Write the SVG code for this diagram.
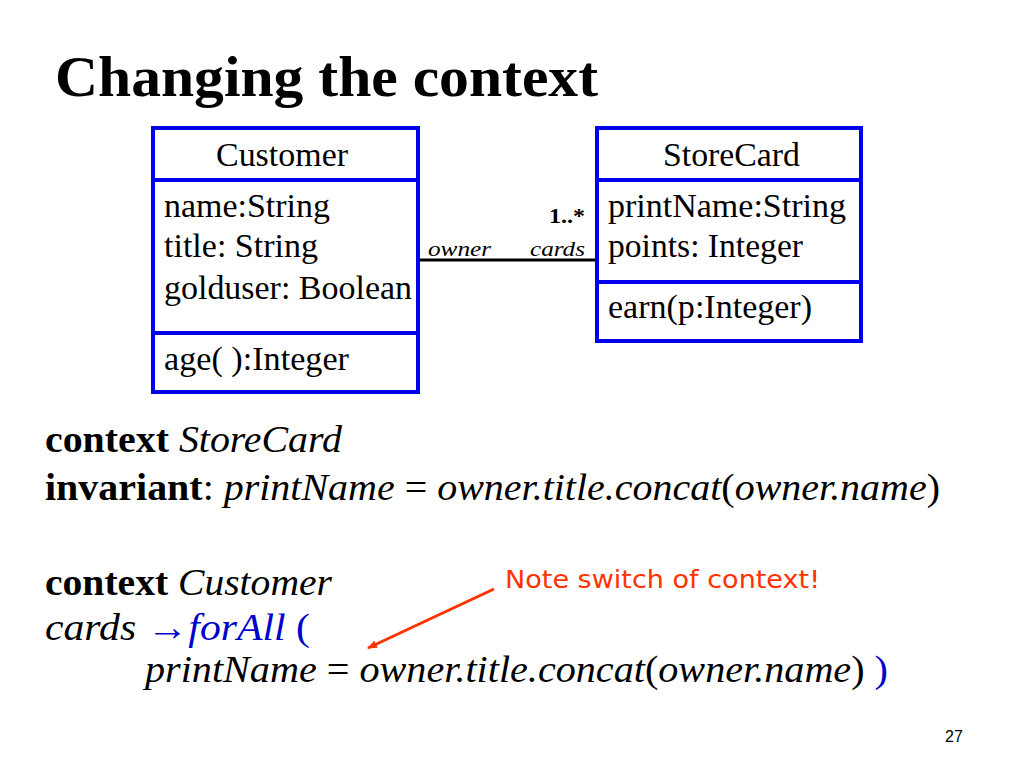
<svg xmlns="http://www.w3.org/2000/svg" width="1024" height="768" viewBox="0 0 1024 768">
<style>
.s{font-family:"Liberation Serif","Times New Roman",serif;fill:#000}
.box{fill:#fff;stroke:#0000ee;stroke-width:4}
.div{stroke:#0000ee;stroke-width:4}
.cls{font-size:33px}
.code{font-size:38px}
.i{font-style:italic}
.b{font-weight:bold}
.blue{fill:#0000cc}
</style>
<defs>
<marker id="ah" markerWidth="10" markerHeight="8" refX="9" refY="4" orient="auto" markerUnits="userSpaceOnUse">
<path d="M0,0 L10,4 L0,8 Z" fill="#ff3300"/>
</marker>
</defs>
<rect width="1024" height="768" fill="#fff"/>
<text class="s b" x="55" y="96" font-size="57" textLength="543" lengthAdjust="spacingAndGlyphs">Changing the context</text>

<g id="connectors">
<line x1="420" y1="260" x2="597" y2="260" stroke="#000" stroke-width="3"/>
<text class="s i" x="428" y="256" font-size="22" textLength="63" lengthAdjust="spacingAndGlyphs">owner</text>
<text class="s i" x="530" y="256" font-size="22" textLength="55" lengthAdjust="spacingAndGlyphs">cards</text>
<text class="s b" x="549" y="223" font-size="22" textLength="36" lengthAdjust="spacingAndGlyphs">1..*</text>
</g>

<g id="customer">
<rect class="box" x="153" y="128" width="265" height="264"/>
<line class="div" x1="153" y1="180" x2="418" y2="180"/>
<line class="div" x1="153" y1="333" x2="418" y2="333"/>
<text class="s cls" x="216" y="166" textLength="132" lengthAdjust="spacingAndGlyphs">Customer</text>
<text class="s cls" x="164" y="217" textLength="166" lengthAdjust="spacingAndGlyphs">name:String</text>
<text class="s cls" x="164" y="257" textLength="154" lengthAdjust="spacingAndGlyphs">title: String</text>
<text class="s cls" x="164" y="299" textLength="248" lengthAdjust="spacingAndGlyphs">golduser: Boolean</text>
<text class="s cls" x="164" y="370" textLength="185" lengthAdjust="spacingAndGlyphs">age( ):Integer</text>
</g>

<g id="storecard">
<rect class="box" x="597" y="128" width="264" height="213"/>
<line class="div" x1="597" y1="180" x2="861" y2="180"/>
<line class="div" x1="597" y1="282" x2="861" y2="282"/>
<text class="s cls" x="663" y="166" textLength="137" lengthAdjust="spacingAndGlyphs">StoreCard</text>
<text class="s cls" x="608" y="217" textLength="238" lengthAdjust="spacingAndGlyphs">printName:String</text>
<text class="s cls" x="608" y="257" textLength="195" lengthAdjust="spacingAndGlyphs">points: Integer</text>
<text class="s cls" x="608" y="318" textLength="204" lengthAdjust="spacingAndGlyphs">earn(p:Integer)</text>
</g>

<g id="code">
<text class="s code" x="45" y="452" textLength="297" lengthAdjust="spacingAndGlyphs"><tspan class="b">context</tspan> <tspan class="i">StoreCard</tspan></text>
<text class="s code" x="45" y="500" textLength="895" lengthAdjust="spacingAndGlyphs"><tspan class="b">invariant</tspan>: <tspan class="i">printName</tspan> = <tspan class="i">owner.title.concat</tspan>(<tspan class="i">owner.name</tspan>)</text>
<text class="s code" x="45" y="595" textLength="287" lengthAdjust="spacingAndGlyphs"><tspan class="b">context</tspan> <tspan class="i">Customer</tspan></text>
<text class="s code" x="45" y="640" textLength="265" lengthAdjust="spacingAndGlyphs"><tspan class="i">cards</tspan> <tspan class="blue">→</tspan><tspan class="i blue">forAll</tspan><tspan class="blue"> (</tspan></text>
<text class="s code" x="145" y="682" textLength="743" lengthAdjust="spacingAndGlyphs"><tspan class="i">printName</tspan> = <tspan class="i">owner.title.concat</tspan>(<tspan class="i">owner.name</tspan>) <tspan class="blue">)</tspan></text>
</g>

<g id="note">
<text x="505" y="588" font-family="'Comic Sans MS','DejaVu Sans',sans-serif" font-size="25" fill="#ff3300" textLength="315" lengthAdjust="spacingAndGlyphs">Note switch of context!</text>
<line x1="494" y1="589" x2="368" y2="648" stroke="#ff3300" stroke-width="3" marker-end="url(#ah)"/>
</g>

<text x="945" y="742" font-family="'Liberation Sans',Arial,sans-serif" font-size="16" fill="#000">27</text>
</svg>
